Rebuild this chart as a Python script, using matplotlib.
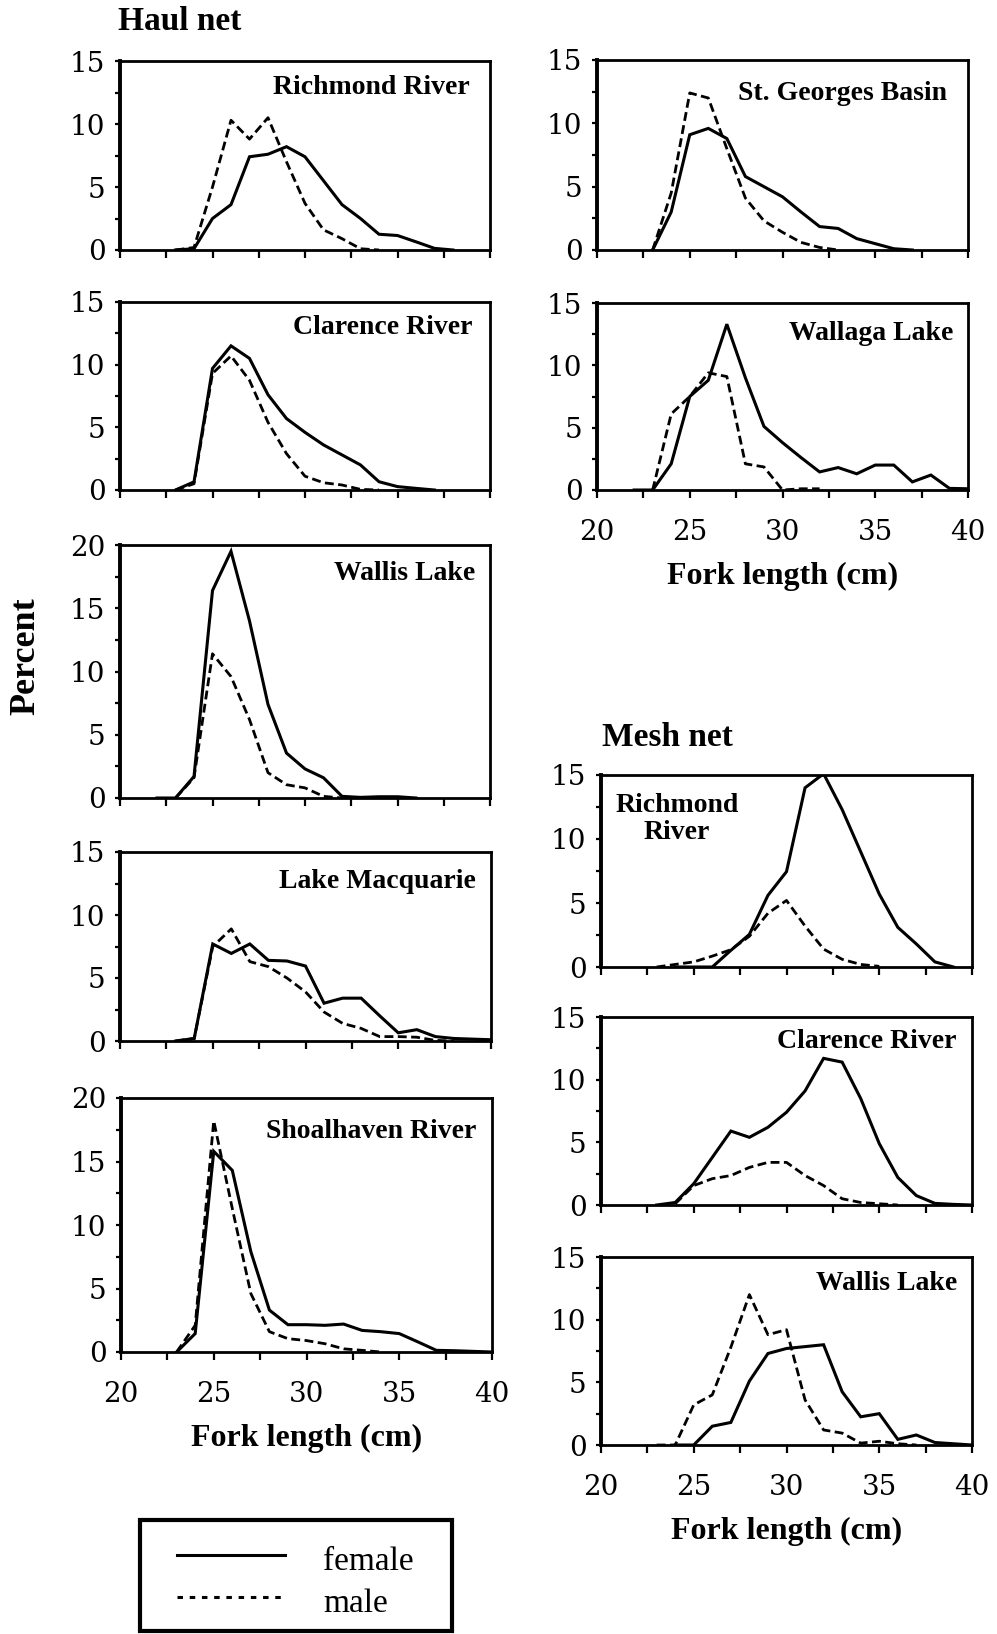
import numpy as np
import matplotlib.pyplot as plt
from matplotlib.patches import Rectangle
from matplotlib.lines import Line2D

plt.rcParams['font.family'] = ['Liberation Serif', 'DejaVu Serif']

# fork length classes (cm)
fork_cm = np.arange(20, 41)

# percent by length class: (first class, values)
haul_richmond_f = (23, [0, 0.1, 2.5, 3.6, 7.4, 7.6, 8.2, 7.4, 5.5, 3.6, 2.5, 1.25, 1.15, 0.65, 0.13, 0])
haul_richmond_m = (23, [0, 0.2, 5.0, 10.3, 8.8, 10.5, 7.0, 3.7, 1.6, 0.9, 0.1, 0])
haul_clarence_f = (23, [0, 0.65, 9.7, 11.5, 10.5, 7.6, 5.7, 4.6, 3.6, 2.8, 2.0, 0.66, 0.27, 0.13, 0])
haul_clarence_m = (23, [0, 0.5, 9.3, 10.7, 8.75, 5.4, 2.9, 1.1, 0.58, 0.4, 0.05, 0])
haul_wallis_f = (22, [0, 0, 1.7, 16.4, 19.5, 14.0, 7.4, 3.55, 2.3, 1.6, 0.13, 0.05, 0.1, 0.1, 0])
haul_wallis_m = (23, [0, 1.6, 11.4, 9.6, 6.2, 2.0, 1.05, 0.8, 0.13, 0])
haul_macquarie_f = (23, [0, 0.2, 7.7, 6.95, 7.7, 6.4, 6.35, 5.95, 3.0, 3.4, 3.4, 2.0, 0.65, 0.9, 0.35, 0.2, 0.15, 0.1])
haul_macquarie_m = (23, [0, 0.2, 7.5, 8.9, 6.3, 5.9, 5.0, 3.9, 2.3, 1.4, 1.0, 0.35, 0.35, 0.3, 0.05, 0])
haul_shoalhaven_f = (23, [0, 1.45, 15.8, 14.3, 7.9, 3.3, 2.15, 2.15, 2.1, 2.2, 1.7, 1.6, 1.45, 0.8, 0.13, 0.1, 0.05, 0])
haul_shoalhaven_m = (23, [0, 2.1, 18.2, 11.3, 4.6, 1.6, 1.05, 0.9, 0.65, 0.25, 0.13, 0])
haul_stgeorges_f = (23, [0, 3.0, 9.1, 9.6, 8.8, 5.8, 5.0, 4.2, 3.0, 1.85, 1.7, 0.9, 0.5, 0.1, 0])
haul_stgeorges_m = (23, [0, 4.5, 12.4, 12.0, 8.0, 4.1, 2.3, 1.4, 0.6, 0.2, 0])
haul_wallaga_f = (22, [0, 0, 2.1, 7.5, 8.8, 13.3, 9.0, 5.1, 3.8, 2.6, 1.45, 1.8, 1.3, 2.0, 2.0, 0.65, 1.2, 0.13, 0.1])
haul_wallaga_m = (23, [0, 6.1, 7.5, 9.4, 9.1, 2.1, 1.85, 0, 0.1, 0.1])
mesh_richmond_f = (24, [0, 0, 0, 1.3, 2.55, 5.6, 7.45, 14.0, 15.1, 12.3, 9.0, 5.7, 3.1, 1.8, 0.4, 0])
mesh_richmond_m = (23, [0, 0.2, 0.4, 0.85, 1.35, 2.4, 4.2, 5.2, 3.2, 1.4, 0.6, 0.2, 0.05])
mesh_clarence_f = (23, [0, 0.2, 1.7, 3.8, 5.9, 5.4, 6.2, 7.4, 9.1, 11.7, 11.4, 8.5, 4.9, 2.2, 0.75, 0.13, 0.05, 0])
mesh_clarence_m = (24, [0.1, 1.55, 2.1, 2.35, 3.0, 3.4, 3.4, 2.35, 1.55, 0.5, 0.2, 0.1, 0])
mesh_wallis_f = (24, [0, 0, 1.5, 1.8, 5.1, 7.3, 7.7, 7.85, 8.0, 4.25, 2.25, 2.5, 0.45, 0.8, 0.2, 0.1, 0])
mesh_wallis_m = (23, [0, 0, 3.2, 4.0, 7.8, 12.0, 8.8, 9.2, 3.6, 1.2, 0.95, 0.15, 0.3, 0.1, 0])


def series(s):
    start, vals = s
    out = np.full(fork_cm.size, np.nan)
    out[start - 20:start - 20 + len(vals)] = vals
    return out


W, H = 997, 1634
fig = plt.figure(figsize=(W / 100, H / 100), dpi=100)

# name, female, male, ymax, box (left, top, right, bottom) px, x labels, title gap/dy px
panels = [
    ('Richmond River', haul_richmond_f, haul_richmond_m, 15, (120, 61, 490, 250), False, 20, 26),
    ('Clarence River', haul_clarence_f, haul_clarence_m, 15, (120, 302, 490, 490), False, 18, 25),
    ('Wallis Lake', haul_wallis_f, haul_wallis_m, 20, (120, 545, 490, 798), False, 15, 28),
    ('Lake Macquarie', haul_macquarie_f, haul_macquarie_m, 15, (120, 852, 491, 1041), False, 15, 30),
    ('Shoalhaven River', haul_shoalhaven_f, haul_shoalhaven_m, 20, (121, 1098, 492, 1352), True, 16, 34),
    ('St. Georges Basin', haul_stgeorges_f, haul_stgeorges_m, 15, (597, 60, 968, 250), False, 21, 33),
    ('Wallaga Lake', haul_wallaga_f, haul_wallaga_m, 15, (597, 303, 968, 490), True, 15, 30),
    ('Richmond\nRiver', mesh_richmond_f, mesh_richmond_m, 15, (601, 775, 972, 967), False, None, None),
    ('Clarence River', mesh_clarence_f, mesh_clarence_m, 15, (601, 1017, 972, 1205), False, 16, 25),
    ('Wallis Lake', mesh_wallis_f, mesh_wallis_m, 15, (601, 1257, 972, 1445), True, 15, 26),
]

for name, fem, mal, ymax, (l, t, r, b), xlab, gap, dy in panels:
    w, h = r - l, b - t
    ax = fig.add_axes([l / W, 1 - b / H, w / W, h / H])
    ax.plot(fork_cm, series(fem), color='black', lw=2.2, solid_joinstyle='miter')
    ax.plot(fork_cm, series(mal), color='black', lw=2.0, dashes=(3.2, 1.6))
    ax.set_xlim(20, 40)
    ax.set_ylim(0, ymax)
    ax.set_xticks(np.arange(20, 41, 5))
    ax.set_xticks(np.arange(22.5, 40, 5), minor=True)
    ax.set_yticks(np.arange(0, ymax + 1, 5))
    ax.set_yticks(np.arange(2.5, ymax, 5), minor=True)
    ax.tick_params(axis='x', which='both', direction='out', length=6, width=1.6,
                   pad=15, labelsize=20, labelfontfamily='DejaVu Serif')
    ax.tick_params(axis='y', which='both', direction='out', length=3.5, width=1.6,
                   pad=7, labelsize=20, labelfontfamily='DejaVu Serif')
    for side in ['top', 'right', 'bottom']:
        ax.spines[side].set_linewidth(2.0)
    ax.spines['left'].set_linewidth(2.8)
    if not xlab:
        ax.set_xticklabels([])
    else:
        ax.text(0.5, -86 / h, 'Fork length (cm)', transform=ax.transAxes,
                ha='center', va='center', fontsize=23, fontweight='bold')
    if gap is None:
        ax.text(76 / w, 1 - 44 / h, name, transform=ax.transAxes, ha='center',
                va='center', fontsize=20, fontweight='bold', linespacing=1.1)
    else:
        ax.text(1 - gap / w, 1 - dy / h, name, transform=ax.transAxes, ha='right',
                va='center', fontsize=20, fontweight='bold')

fig.text(118 / W, 1 - 22 / H, 'Haul net', ha='left', va='center', fontsize=24, fontweight='bold')
fig.text(602 / W, 1 - 738 / H, 'Mesh net', ha='left', va='center', fontsize=24, fontweight='bold')
fig.text(26 / W, 1 - 656 / H, 'Percent', ha='center', va='center', rotation=90,
         fontsize=26, fontweight='bold')

# legend box
leg = fig.add_axes([0, 0, 1, 1])
leg.set_xlim(0, W)
leg.set_ylim(H, 0)
leg.axis('off')
leg.add_patch(Rectangle((140, 1520), 312, 111, fill=False, lw=3, edgecolor='black'))
leg.add_line(Line2D([177, 285], [1555, 1555], color='black', lw=2.2))
leg.add_line(Line2D([177, 285], [1597, 1597], color='black', lw=2.2, dashes=(1.8, 2.2)))
leg.text(323, 1562, 'female', ha='left', va='center', fontsize=24)
leg.text(323, 1604, 'male', ha='left', va='center', fontsize=24)

fig.savefig('out.png', dpi=100)
